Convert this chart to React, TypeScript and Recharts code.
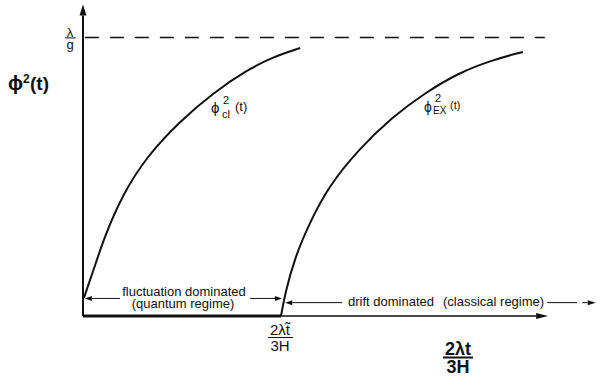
import { LineChart, Line, XAxis, YAxis, ReferenceLine } from 'recharts';

// axis units: x = 2λt/3H (0..10), y = φ²(t) with λ/g = 1
const xMax = 10;
const yMax = 1.12;
const plateau = 1;
const tTilde = 4.24;

// φ²_cl(t)
const clX = [0.02, 0.24, 0.45, 0.84, 1.37, 2.08, 2.78, 3.51, 4.07, 4.65];
const clY = [0.065, 0.172, 0.28, 0.434, 0.574, 0.7, 0.8, 0.883, 0.93, 0.962];

// φ²_EX(t)
const exX = [4.24, 4.33, 4.54, 4.86, 5.25, 5.89, 6.62, 7.32, 8.03, 8.76, 9.42];
const exY = [0, 0.083, 0.212, 0.337, 0.463, 0.596, 0.714, 0.8, 0.872, 0.919, 0.948];

// regime arrows: [from x, to x, y]
const quantumLeft = [0.79, 0.04, 0.063];
const quantumRight = [3.58, 4.26, 0.063];
const driftLeft = [5.55, 4.33, 0.048];
const driftRight = [9.94, 10.98, 0.048];

const clData = clX.map((x, i) => ({ x, y: clY[i] }));
const exData = exX.map((x, i) => ({ x, y: exY[i] }));

const ink = '#111';
const font = '"Liberation Sans", Arial, Helvetica, sans-serif';

function arrow(head: number, half: number, dash?: string) {
  return (p: any) => {
    const { x1, y1, x2, y2, stroke, strokeWidth } = p;
    const dx = x2 - x1;
    const dy = y2 - y1;
    const len = Math.hypot(dx, dy) || 1;
    const ux = dx / len;
    const uy = dy / len;
    const bx = x2 - ux * head;
    const by = y2 - uy * head;
    const pts = `${x2},${y2} ${bx - uy * half},${by + ux * half} ${bx + uy * half},${by - ux * half}`;
    return (
      <g>
        <line x1={x1} y1={y1} x2={bx} y2={by} stroke={stroke} strokeWidth={strokeWidth} strokeDasharray={dash} />
        <polygon points={pts} fill={stroke} />
      </g>
    );
  };
}

function XTick(props: any) {
  const { x, y } = props;
  return (
    <g fontFamily={font} fill={ink}>
      <text x={x - 1} y={y + 19} textAnchor="middle" fontSize={15}>{'2λt\u0303'}</text>
      <line x1={x - 13} x2={x + 12} y1={y + 21.5} y2={y + 21.5} stroke={ink} strokeWidth={1} />
      <text x={x - 1} y={y + 35} textAnchor="middle" fontSize={15}>3H</text>
    </g>
  );
}

function YTick(props: any) {
  const { x, y } = props;
  return (
    <g fontFamily={font} fill={ink}>
      <text x={x - 13} y={y - 0.5} textAnchor="middle" fontSize={13}>λ</text>
      <line x1={x - 18} x2={x - 7} y1={y + 0.5} y2={y + 0.5} stroke={ink} strokeWidth={1} />
      <text x={x - 13} y={y + 12} textAnchor="middle" fontSize={13}>g</text>
    </g>
  );
}

export default function App() {
  return (
    <div style={{ position: 'absolute', left: 0, top: 0, width: 600, height: 379, background: '#fff' }}>
      <LineChart width={600} height={379} margin={{ top: 4, right: 50, bottom: 0, left: 0 }}>
        <XAxis
          type="number"
          dataKey="x"
          domain={[0, xMax]}
          ticks={[tTilde]}
          height={63}
          axisLine={false}
          tickLine={false}
          tickSize={0}
          tickMargin={0}
          tick={<XTick />}
          allowDataOverflow
        />
        <YAxis
          type="number"
          dataKey="y"
          domain={[0, yMax]}
          ticks={[plateau]}
          width={83}
          axisLine={false}
          tickLine={false}
          tickSize={0}
          tickMargin={0}
          tick={<YTick />}
          allowDataOverflow
        />
        <ReferenceLine
          segment={[{ x: 0.04, y: plateau }, { x: 9.89, y: plateau }]}
          stroke={ink}
          strokeWidth={1.5}
          strokeDasharray="14 11"
          ifOverflow="visible"
        />
        <ReferenceLine
          segment={[{ x: 0, y: 0 }, { x: 0, y: yMax - 0.002 }]}
          stroke={ink}
          strokeWidth={2}
          ifOverflow="visible"
          shape={arrow(11, 3.5)}
        />
        <ReferenceLine
          segment={[{ x: 0, y: 0 }, { x: tTilde, y: 0 }]}
          stroke={ink}
          strokeWidth={3}
          ifOverflow="visible"
        />
        <ReferenceLine
          segment={[{ x: tTilde, y: 0 }, { x: 9.96, y: 0 }]}
          stroke={ink}
          strokeWidth={1.6}
          ifOverflow="visible"
          shape={arrow(12, 3)}
        />
        <ReferenceLine
          segment={[{ x: quantumLeft[0], y: quantumLeft[2] }, { x: quantumLeft[1], y: quantumLeft[2] }]}
          stroke={ink}
          strokeWidth={1}
          ifOverflow="visible"
          shape={arrow(7, 2.5)}
        />
        <ReferenceLine
          segment={[{ x: quantumRight[0], y: quantumRight[2] }, { x: quantumRight[1], y: quantumRight[2] }]}
          stroke={ink}
          strokeWidth={1}
          ifOverflow="visible"
          shape={arrow(7, 2.5)}
        />
        <ReferenceLine
          segment={[{ x: driftLeft[0], y: driftLeft[2] }, { x: driftLeft[1], y: driftLeft[2] }]}
          stroke={ink}
          strokeWidth={1}
          ifOverflow="visible"
          shape={arrow(7, 2.5)}
        />
        <ReferenceLine
          segment={[{ x: driftRight[0], y: driftRight[2] }, { x: driftRight[1], y: driftRight[2] }]}
          stroke={ink}
          strokeWidth={1}
          ifOverflow="visible"
          shape={arrow(8, 2.5, '30 5')}
        />
        <Line data={clData} dataKey="y" type="basis" stroke={ink} strokeWidth={2} dot={false} isAnimationActive={false} />
        <Line data={exData} dataKey="y" type="basis" stroke={ink} strokeWidth={2} dot={false} isAnimationActive={false} />
      </LineChart>
      <svg
        width={600}
        height={379}
        style={{ position: 'absolute', left: 0, top: 0, pointerEvents: 'none' }}
        fontFamily={font}
        fill={ink}
      >
        <text x={8} y={90} fontSize={20} fontWeight="bold">ϕ</text>
        <text x={23} y={83} fontSize={12} fontWeight="bold">2</text>
        <text x={30} y={90} fontSize={19} fontWeight="bold">(t)</text>

        <text x={211} y={113} fontSize={15}>ϕ</text>
        <text x={223} y={104} fontSize={11}>2</text>
        <text x={222} y={118} fontSize={11}>cl</text>
        <text x={235} y={111} fontSize={13}>(t)</text>

        <text x={424} y={112} fontSize={14}>ϕ</text>
        <text x={435} y={102} fontSize={11}>2</text>
        <text x={433} y={114} fontSize={10}>EX</text>
        <text x={450} y={109} fontSize={11}>(t)</text>

        <text x={184} y={296} fontSize={13} textAnchor="middle">fluctuation dominated</text>
        <text x={183} y={308} fontSize={13} textAnchor="middle">(quantum regime)</text>
        <text x={348} y={306} fontSize={13}>drift dominated</text>
        <text x={443} y={306} fontSize={13}>(classical regime)</text>

        <text x={458} y={355} fontSize={18} fontWeight="bold" textAnchor="middle">2λt</text>
        <line x1={443} x2={473} y1={357.5} y2={357.5} stroke={ink} strokeWidth={2} />
        <text x={458} y={373} fontSize={18} fontWeight="bold" textAnchor="middle">3H</text>
      </svg>
    </div>
  );
}
